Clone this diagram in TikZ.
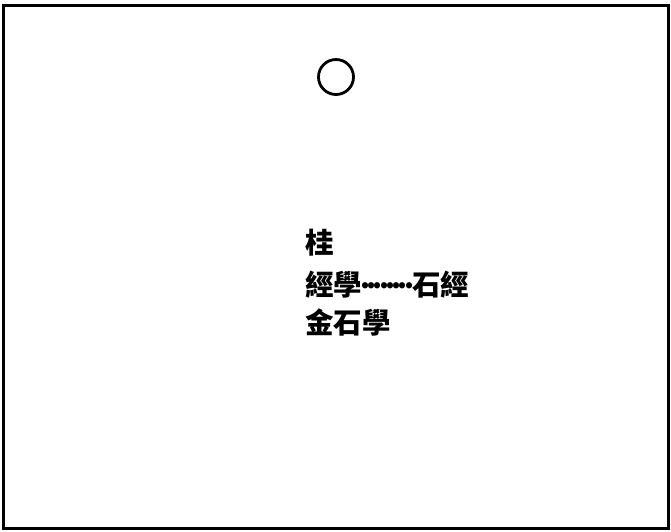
\documentclass[tikz,border=0pt]{standalone}
\usepackage{fontspec}
\newfontfamily\cjk{Noto Sans CJK TC}
\newcommand{\dotrow}{\hbox to 50pt{\leaders\hbox to 6.25pt{\hss\raisebox{7pt}{.}\hss}\hfill}}
\tikzset{
  frame/.style={draw=black, line width=3pt},
  hole/.style={draw=black, line width=2.8pt, circle, minimum size=35pt, inner sep=0pt},
  entry/.style={anchor=base west, inner sep=0pt, font=\cjk\bfseries\fontsize{28.5}{28.5}\selectfont}
}
\begin{document}
\begin{tikzpicture}[x=1pt,y=-1pt]
\useasboundingbox (0,0) rectangle (671,531);
\draw[frame] (3.5,5.5) rectangle (668,528.5);
\node[hole] (circ) at (336,77) {};
\node[entry] (gui) at (305,253) {桂};
\node[entry] (jing) at (305,295) {經學\dotrow 石經};
\node[entry] (jin) at (305,333) {金石學};
\end{tikzpicture}
\end{document}
